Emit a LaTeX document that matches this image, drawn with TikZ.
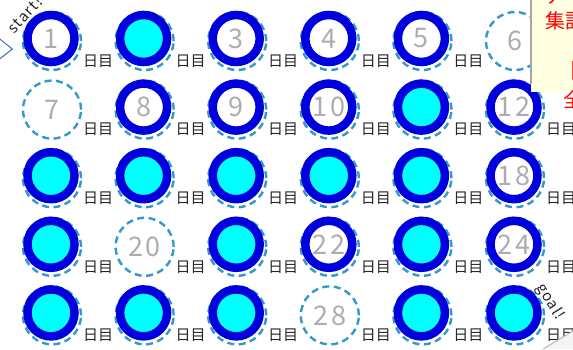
\documentclass[tikz,border=0pt]{standalone}
\usepackage{fontspec}
\setmainfont{Noto Sans CJK JP}
\newfontfamily\numfont[LetterSpace=10]{Noto Sans CJK JP}
\newfontfamily\tagfont[LetterSpace=8]{Noto Sans CJK JP}
\usetikzlibrary{calc,shapes.geometric}
\definecolor{stampblue}{RGB}{0,0,220}
\definecolor{stampcyan}{RGB}{0,255,255}
\definecolor{slotblue}{RGB}{51,153,204}
\definecolor{numgray}{RGB}{172,172,178}
\definecolor{noteyellow}{RGB}{255,255,225}
\definecolor{notered}{RGB}{255,0,0}
\definecolor{entryblue}{RGB}{60,110,170}

\begin{document}
\begin{tikzpicture}[x=1pt,y=-1pt,
  slot/.style={circle,draw=slotblue,line width=2.4pt,dash pattern=on 7pt off 4.5pt,minimum size=58pt,inner sep=0pt},
  stamp/.style={circle,draw=stampblue,line width=8.5pt,minimum size=47pt,inner sep=0pt},
  daynum/.style={text=numgray,font=\numfont\fontsize{27}{27}\selectfont,inner sep=0pt},
  daylabel/.style={text=black!85,font=\fontsize{15}{15}\selectfont,inner sep=0pt},
  notetext/.style={text=notered,font=\fontsize{20}{20}\selectfont,inner sep=0pt,anchor=west},
  tagtext/.style={text=black!85,font=\tagfont\fontsize{15}{15}\selectfont,inner sep=0pt}
]
\useasboundingbox[fill=white] (0,0) rectangle (573,349);
% grid of days
\foreach \n in {1,...,30}{
  \pgfmathtruncatemacro\col{mod(\n-1,6)}
  \pgfmathtruncatemacro\row{div(\n-1,6)}
  \node[slot] (slot\n) at (52+92.6*\col,41+68.6*\row) {};
}
% empty days
\foreach \n in {6,7,20,28}
  \node[daynum] (num\n) at (slot\n) {\n};
% stamped days with number
\foreach \n in {1,3,4,5,8,9,10,12,18,22,24}{
  \node[stamp,fill=white] (stamp\n) at ($(slot\n)+(-1,-2.5)$) {};
  \node[daynum] (num\n) at (stamp\n) {\n};
}
% stamped days, filled
\foreach \n in {2,11,13,14,15,16,17,19,21,23,25,26,27,29,30}
  \node[stamp,fill=stampcyan] (stamp\n) at ($(slot\n)+(-1,-2.5)$) {};
% day labels
\foreach \n in {1,...,5,7,8,...,30}
  \node[daylabel] (lab\n) at ($(slot\n)+(46,20)$) {日目};
% start and goal
\node[diamond,draw=entryblue,line width=1pt,minimum width=25pt,minimum height=20pt,inner sep=0pt] (entry) at (0,49) {};
\node[tagtext,rotate=47] (start) at (25,15) {start!};
\node[tagtext,rotate=-58] (goal) at (550,302) {goal!};
% note
\fill[noteyellow] (531,0) rectangle (573,92);
\draw[gray!70,line width=1.5pt] (531,0) -- (531,84);
\node[notetext] (note1) at (545,-3) {ア};
\node[notetext] (note2) at (545,21) {集計};
\node[notetext] (note3) at (559,71) {【};
\node[notetext] (note4) at (563,100) {全};
% page corner
\fill[gray!8] (543,349) -- (573,331) -- (573,349) -- cycle;
\draw[gray!55,line width=1pt] (543,349) -- (573,331);
\end{tikzpicture}
\end{document}
